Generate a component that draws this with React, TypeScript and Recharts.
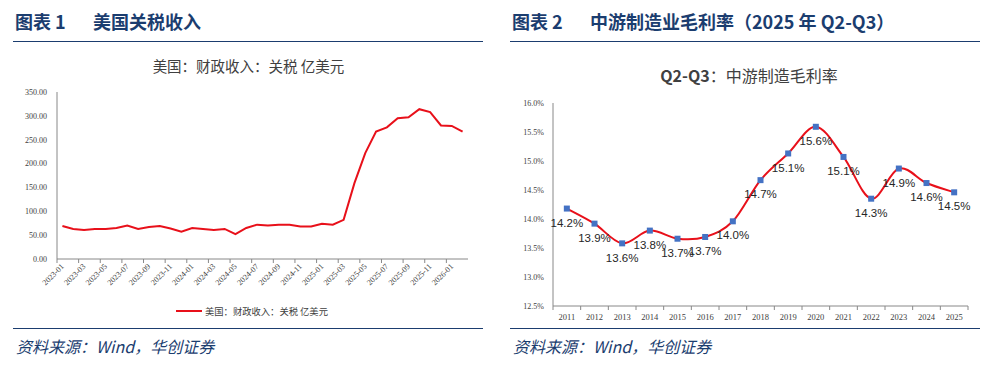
import React from 'react';
import { LineChart, Line, XAxis, YAxis, LabelList } from 'recharts';

// 美国关税收入 (亿美元), monthly
const months = [
  '2023-01', '2023-02', '2023-03', '2023-04', '2023-05', '2023-06', '2023-07', '2023-08', '2023-09', '2023-10', '2023-11', '2023-12',
  '2024-01', '2024-02', '2024-03', '2024-04', '2024-05', '2024-06', '2024-07', '2024-08', '2024-09', '2024-10', '2024-11', '2024-12',
  '2025-01', '2025-02', '2025-03', '2025-04', '2025-05', '2025-06', '2025-07', '2025-08', '2025-09', '2025-10', '2025-11', '2025-12',
  '2026-01', '2026-02',
];
const tariffs = [
  69, 63, 61, 63, 63, 65, 70, 63, 67, 69, 64, 57,
  65, 63, 61, 63, 52, 65, 72, 70, 72, 72, 68, 68,
  74, 72, 82, 159, 222, 267, 276, 295, 297, 314, 308, 280,
  279, 267,
];
const tariffTicks = [0, 50, 100, 150, 200, 250, 300, 350];

// 中游制造毛利率 (%), Q2-Q3
const years = ['2011', '2012', '2013', '2014', '2015', '2016', '2017', '2018', '2019', '2020', '2021', '2022', '2023', '2024', '2025'];
const margins = [14.18, 13.92, 13.58, 13.8, 13.66, 13.69, 13.96, 14.67, 15.13, 15.59, 15.07, 14.35, 14.87, 14.62, 14.46];
const marginTicks = [12.5, 13, 13.5, 14, 14.5, 15, 15.5, 16];

const tariffData = months.map((m, i) => ({ month: m, tariff: tariffs[i] }));
const marginData = years.map((y, i) => ({ year: y, margin: margins[i] }));

const NAVY = '#1B3D6F';
const RED = '#E8101A';
const CJK = '"Noto Sans CJK SC", "Noto Sans", sans-serif';
const SERIF = '"Liberation Serif", "DejaVu Serif", serif';

// plot widths, used for the half-band padding and the between-category ticks
const LEFT_W = 411;
const RIGHT_W = 415;
const leftBand = LEFT_W / months.length;
const rightBand = RIGHT_W / years.length;

// excel style smoothed line
const excelSmooth = (context: any) => {
  let pts: number[][] = [];
  return {
    areaStart() {},
    areaEnd() {},
    lineStart() { pts = []; },
    point(x: number, y: number) { pts.push([+x, +y]); },
    lineEnd() {
      if (!pts.length) return;
      context.moveTo(pts[0][0], pts[0][1]);
      for (let i = 0; i < pts.length - 1; i++) {
        const p0 = pts[i - 1] || pts[i];
        const p1 = pts[i];
        const p2 = pts[i + 1];
        const p3 = pts[i + 2] || p2;
        context.bezierCurveTo(
          p1[0] + (p2[0] - p0[0]) / 6, p1[1] + (p2[1] - p0[1]) / 6,
          p2[0] - (p3[0] - p1[0]) / 6, p2[1] - (p3[1] - p1[1]) / 6,
          p2[0], p2[1],
        );
      }
    },
  };
};

const MonthTick = (props: any) => {
  const { x, y, payload, index } = props;
  const last = index === months.length - 2;
  return (
    <g>
      <line x1={x - leftBand / 2} x2={x - leftBand / 2} y1={y} y2={y + 4} stroke="#888" />
      {last && <line x1={x + leftBand * 1.5} x2={x + leftBand * 1.5} y1={y} y2={y + 4} stroke="#888" />}
      <text
        x={x + 2}
        y={y + 8}
        transform={`rotate(-45, ${x + 2}, ${y + 8})`}
        textAnchor="end"
        fontSize={8}
        fontFamily={SERIF}
        fill="#404040"
      >
        {payload.value}
      </text>
    </g>
  );
};

const YearTick = (props: any) => {
  const { x, y, payload, index } = props;
  const last = index === years.length - 1;
  return (
    <g>
      <line x1={x - rightBand / 2} x2={x - rightBand / 2} y1={y} y2={y + 4} stroke="#888" />
      {last && <line x1={x + rightBand / 2} x2={x + rightBand / 2} y1={y} y2={y + 4} stroke="#888" />}
      <text x={x} y={y + 14} textAnchor="middle" fontSize={8.5} fontFamily={SERIF} fill="#404040">
        {payload.value}
      </text>
    </g>
  );
};

const SquareDot = (props: any) => {
  const { cx, cy } = props;
  return <rect x={cx - 3} y={cy - 3} width={6} height={6} fill="#4472C4" />;
};

const Header = ({ left, num, title }: { left: number; num: string; title: string }) => (
  <>
    <div style={{ position: 'absolute', left, top: 11, fontFamily: CJK, fontWeight: 700, fontSize: 18, lineHeight: '20px', color: NAVY, whiteSpace: 'nowrap' }}>
      图表 {num}
    </div>
    <div style={{ position: 'absolute', left: left + 78, top: 11, fontFamily: CJK, fontWeight: 700, fontSize: 18, lineHeight: '20px', color: NAVY, whiteSpace: 'nowrap' }}>
      {title}
    </div>
    <div style={{ position: 'absolute', left: left - 2, top: 41, width: 470, height: 0, borderTop: `1.5px solid ${NAVY}` }} />
    <div style={{ position: 'absolute', left: left - 2, top: 328, width: 470, height: 0, borderTop: `1.5px solid ${NAVY}` }} />
    <div style={{ position: 'absolute', left: left + 1, top: 336, fontFamily: CJK, fontStyle: 'italic', fontSize: 16, lineHeight: '20px', color: NAVY, whiteSpace: 'nowrap' }}>
      资料来源：Wind，华创证券
    </div>
  </>
);

export default function App() {
  return (
    <div style={{ position: 'absolute', left: 0, top: 0, width: 997, height: 369, background: '#fff', overflow: 'hidden' }}>
      <Header left={15} num="1" title="美国关税收入" />
      <Header left={512} num="2" title="中游制造业毛利率（2025 年 Q2-Q3）" />

      {/* left chart */}
      <div style={{ position: 'absolute', left: 0, top: 56, width: 497, textAlign: 'center', fontFamily: CJK, fontSize: 14.5, lineHeight: '20px', color: '#404040' }}>
        美国：财政收入：关税 亿美元
      </div>
      <div style={{ position: 'absolute', left: 0, top: 80 }}>
        <LineChart width={490} height={250} data={tariffData} margin={{ top: 12, right: 22, left: 0, bottom: 0 }}>
          <XAxis
            dataKey="month"
            interval={1}
            padding={{ left: leftBand / 2, right: leftBand / 2 }}
            tick={<MonthTick />}
            tickLine={false}
            tickSize={0}
            tickMargin={0}
            height={71}
            axisLine={{ stroke: '#888' }}
          />
          <YAxis
            width={57}
            domain={[0, 350]}
            ticks={tariffTicks}
            tickFormatter={(v: number) => v.toFixed(2)}
            tickLine={false}
            tickMargin={4}
            axisLine={{ stroke: '#888' }}
            tick={{ fontSize: 8, fontFamily: SERIF, fill: '#404040' }}
          />
          <Line type="linear" dataKey="tariff" stroke={RED} strokeWidth={2} dot={false} isAnimationActive={false} />
        </LineChart>
      </div>
      <div style={{ position: 'absolute', left: 176, top: 304, display: 'flex', alignItems: 'center', fontFamily: CJK, fontSize: 9.3, lineHeight: '14px', color: '#404040', whiteSpace: 'nowrap' }}>
        <span style={{ display: 'inline-block', width: 26, height: 2, background: RED, marginRight: 3 }} />
        美国：财政收入：关税 亿美元
      </div>

      {/* right chart */}
      <div style={{ position: 'absolute', left: 500, top: 64, width: 498, textAlign: 'center', fontFamily: CJK, fontSize: 16, lineHeight: '22px', color: '#404040', whiteSpace: 'nowrap' }}>
        <span style={{ fontWeight: 700 }}>Q2-Q3</span>：中游制造毛利率
      </div>
      <div style={{ position: 'absolute', left: 500, top: 90 }}>
        <LineChart width={490} height={240} data={marginData} margin={{ top: 13, right: 22, left: 0, bottom: 0 }}>
          <XAxis
            dataKey="year"
            interval={0}
            padding={{ left: rightBand / 2, right: rightBand / 2 }}
            tick={<YearTick />}
            tickLine={false}
            tickSize={0}
            tickMargin={0}
            height={24}
            axisLine={{ stroke: '#888' }}
          />
          <YAxis
            width={53}
            domain={[12.5, 16]}
            ticks={marginTicks}
            tickFormatter={(v: number) => v.toFixed(1) + '%'}
            tickLine={false}
            tickMargin={3}
            axisLine={{ stroke: '#888' }}
            tick={{ fontSize: 8, fontFamily: SERIF, fill: '#404040' }}
          />
          <Line
            type={excelSmooth as any}
            dataKey="margin"
            stroke={RED}
            strokeWidth={2}
            dot={<SquareDot />}
            activeDot={false}
            isAnimationActive={false}
          >
            <LabelList
              dataKey="margin"
              position="bottom"
              offset={10}
              formatter={(v: any) => Number(v).toFixed(1) + '%'}
              style={{ fontSize: 11.5, fontFamily: '"Liberation Sans", Arial, sans-serif', fill: '#262626' }}
            />
          </Line>
        </LineChart>
      </div>
    </div>
  );
}
